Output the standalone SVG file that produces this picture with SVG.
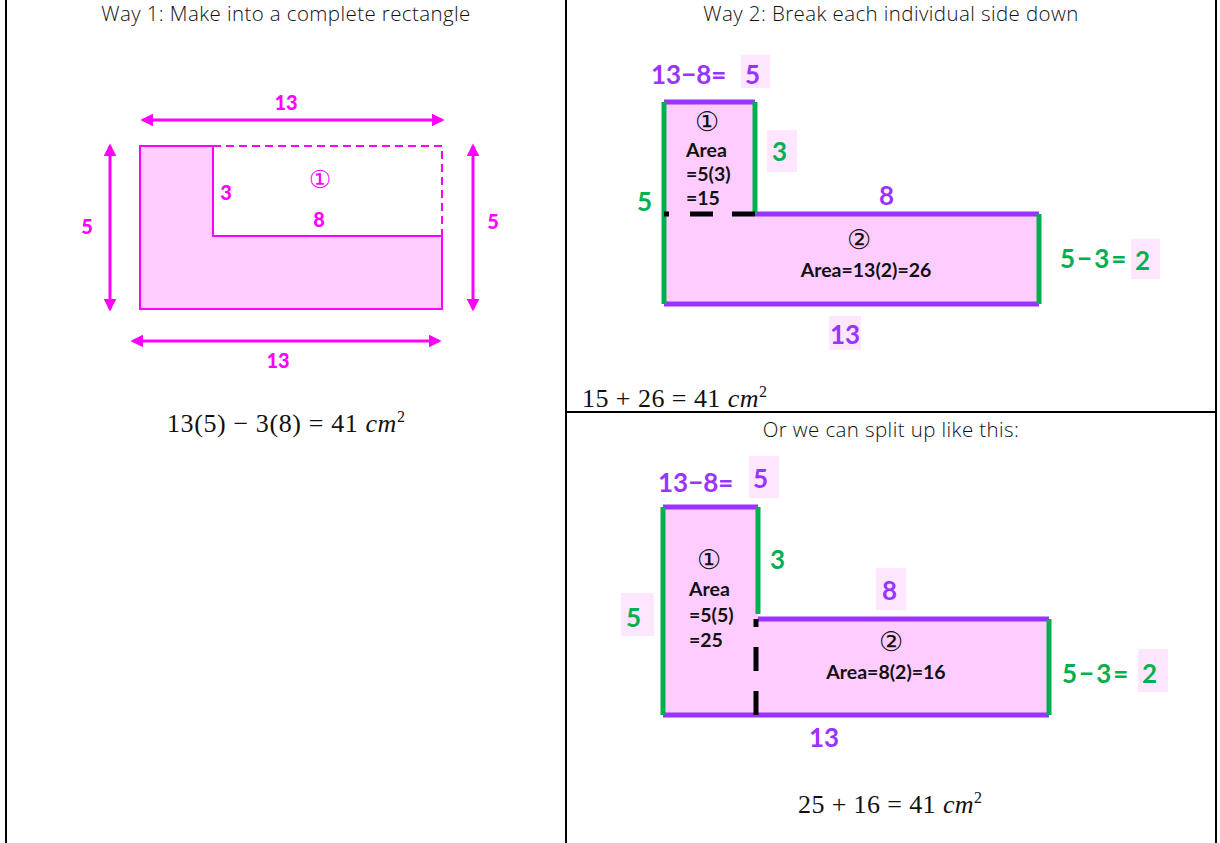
<svg xmlns="http://www.w3.org/2000/svg" width="1220" height="843" viewBox="0 0 1220 843">
<style>
.hdr{font-family:"Open Sans",Lato,"Liberation Sans",sans-serif;font-weight:300;font-size:20.5px;letter-spacing:0.4px;fill:#111;text-anchor:middle}
.math{font-family:"Liberation Serif","DejaVu Serif",serif;font-size:26px;fill:#111}
.mg{font-family:Lato,"Liberation Sans",sans-serif;font-weight:900;font-size:20px;fill:#FF00FF;text-anchor:middle}
.pu{font-family:Lato,"Liberation Sans",sans-serif;font-weight:700;font-size:26px;fill:#9933FF}
.gr{font-family:Lato,"Liberation Sans",sans-serif;font-weight:700;font-size:26px;fill:#00B050}
.bk{font-family:Lato,"Liberation Sans",sans-serif;font-weight:700;font-size:19.5px;fill:#111}
.circ{font-family:"DejaVu Sans",sans-serif;font-size:27px;fill:#111;text-anchor:middle}
.hl{fill:#FFE6FF}
.shape{fill:#FFCCFF;stroke:none}
.pl{stroke:#9933FF;stroke-width:5;fill:none}
.gl{stroke:#00B050;stroke-width:5;fill:none}
.dash{stroke:#000;stroke-width:5;fill:none}
.arr{stroke:#FF00FF;stroke-width:3;fill:none;marker-start:url(#ah);marker-end:url(#ah)}
.grid{stroke:#000;stroke-width:2;fill:none}
</style>
<defs>
<marker id="ah" viewBox="0 0 10 10" refX="8" refY="5" markerWidth="13" markerHeight="13" markerUnits="userSpaceOnUse" orient="auto-start-reverse">
<path d="M0,0 L10,5 L0,10 Z" fill="#FF00FF"/>
</marker>
</defs>

<g id="table">
<line class="grid" x1="6" y1="0" x2="6" y2="843"/>
<line class="grid" x1="566" y1="0" x2="566" y2="843"/>
<line class="grid" x1="1216" y1="0" x2="1216" y2="843"/>
<line class="grid" x1="566" y1="412" x2="1216" y2="412"/>
</g>

<g id="headers">
<text class="hdr" x="286" y="21">Way 1: Make into a complete rectangle</text>
<text class="hdr" x="891" y="21">Way 2: Break each individual side down</text>
<text class="hdr" x="891" y="437">Or we can split up like this:</text>
</g>

<g id="way1-shape">
<path d="M140,146 H213 V236 H442 V309 H140 Z" fill="#FFCCFF" stroke="#FF00FF" stroke-width="2"/>
<path d="M213,146 H442 V236" fill="none" stroke="#FF00FF" stroke-width="2" stroke-dasharray="8,5"/>
<text class="mg" x="226" y="200">3</text>
<text class="mg" x="320" y="188" style="font-family:'DejaVu Sans',sans-serif;font-weight:400;font-size:25px">①</text>
<text class="mg" x="319" y="227">8</text>
</g>

<g id="connectors">
<line class="arr" x1="143" y1="120" x2="442" y2="120"/>
<line class="arr" x1="133" y1="341" x2="439" y2="341"/>
<line class="arr" x1="110" y1="146" x2="110" y2="309"/>
<line class="arr" x1="473" y1="146" x2="473" y2="309"/>
</g>

<g id="way1-labels">
<text class="mg" x="286" y="110">13</text>
<text class="mg" x="278" y="368">13</text>
<text class="mg" x="87" y="234">5</text>
<text class="mg" x="493" y="229">5</text>
</g>

<g id="way1-formula">
<text class="math" x="167" y="432" textLength="238" lengthAdjust="spacing">13(5) − 3(8) = 41 <tspan font-style="italic">cm</tspan><tspan dy="-10" font-size="16">2</tspan></text>
</g>

<g id="way2-top">
<path class="shape" d="M664,102 H755 V214 H1039 V304 H664 Z"/>
<line class="pl" x1="664" y1="102" x2="755" y2="102"/>
<line class="pl" x1="755" y1="214" x2="1039" y2="214"/>
<line class="pl" x1="664" y1="304" x2="1039" y2="304"/>
<line class="gl" x1="664" y1="102" x2="664" y2="304"/>
<line class="gl" x1="755" y1="102" x2="755" y2="214"/>
<line class="gl" x1="1039" y1="214" x2="1039" y2="304"/>
<path class="dash" d="M664,214 H669 M690,214 H713 M732,214 H755"/>
<rect class="hl" x="741" y="55" width="29" height="33"/>
<text class="pu" x="651" y="84">13−8=</text>
<text class="pu" x="745" y="84">5</text>
<rect class="hl" x="767" y="130" width="30" height="42"/>
<text class="gr" x="772" y="161">3</text>
<text class="gr" x="637" y="211">5</text>
<text class="pu" x="879" y="205">8</text>
<text class="circ" x="707" y="131">①</text>
<text class="bk" x="686" y="157">Area</text>
<text class="bk" x="686" y="181">=5(3)</text>
<text class="bk" x="686" y="205">=15</text>
<text class="circ" x="859" y="249">②</text>
<text class="bk" x="866" y="277" text-anchor="middle">Area=13(2)=26</text>
<rect class="hl" x="1131" y="239" width="29" height="40"/>
<text class="gr" x="1060" y="268" letter-spacing="2">5−3=</text>
<text class="gr" x="1135" y="270">2</text>
<rect class="hl" x="829" y="316" width="32" height="34"/>
<text class="pu" x="845" y="344" text-anchor="middle">13</text>
</g>

<g id="way2-formula">
<text class="math" x="582" y="407" textLength="185" lengthAdjust="spacing">15 + 26 = 41 <tspan font-style="italic">cm</tspan><tspan dy="-10" font-size="16">2</tspan></text>
</g>

<g id="way2-bottom">
<path class="shape" d="M663,507 H758 V619 H1049 V715 H663 Z"/>
<line class="pl" x1="663" y1="507" x2="758" y2="507"/>
<line class="pl" x1="758" y1="619" x2="1049" y2="619"/>
<line class="pl" x1="663" y1="715" x2="1049" y2="715"/>
<line class="gl" x1="663" y1="507" x2="663" y2="715"/>
<line class="gl" x1="758" y1="507" x2="758" y2="614"/>
<line class="gl" x1="1049" y1="619" x2="1049" y2="715"/>
<path class="dash" d="M756,619 V627 M756,647 V671 M756,691 V715"/>
<rect class="hl" x="749" y="456" width="30" height="42"/>
<text class="pu" x="658" y="492">13−8=</text>
<text class="pu" x="753" y="488">5</text>
<text class="gr" x="770" y="569">3</text>
<rect class="hl" x="621" y="593" width="33" height="43"/>
<text class="gr" x="626" y="627">5</text>
<rect class="hl" x="876" y="568" width="30" height="42"/>
<text class="pu" x="882" y="600">8</text>
<text class="circ" x="709" y="569">①</text>
<text class="bk" x="689" y="596">Area</text>
<text class="bk" x="689" y="622">=5(5)</text>
<text class="bk" x="689" y="647">=25</text>
<text class="circ" x="891" y="651">②</text>
<text class="bk" x="886" y="679" text-anchor="middle">Area=8(2)=16</text>
<rect class="hl" x="1138" y="649" width="30" height="43"/>
<text class="gr" x="1062" y="683" letter-spacing="2">5−3=</text>
<text class="gr" x="1142" y="683">2</text>
<text class="pu" x="824" y="747" text-anchor="middle">13</text>
</g>

<g id="way2b-formula">
<text class="math" x="798" y="813" textLength="184" lengthAdjust="spacing">25 + 16 = 41 <tspan font-style="italic">cm</tspan><tspan dy="-10" font-size="16">2</tspan></text>
</g>
</svg>
